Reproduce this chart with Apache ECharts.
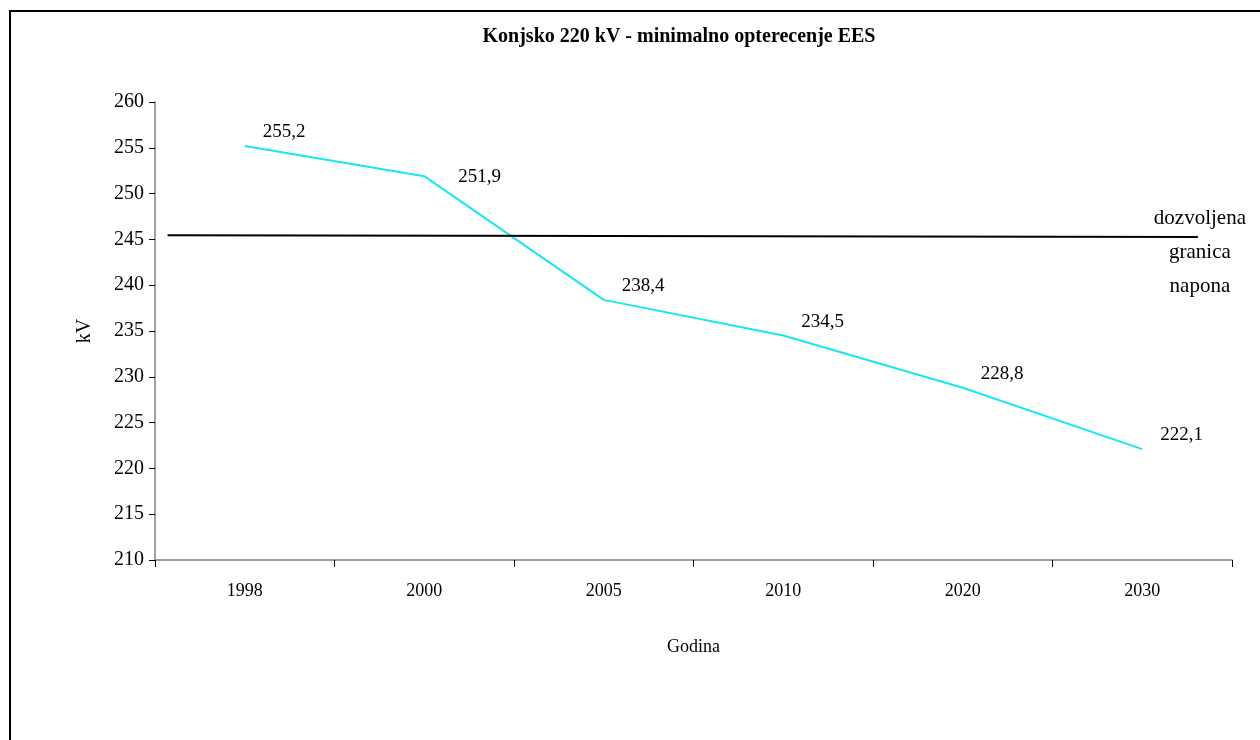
<!DOCTYPE html>
<html>
<head>
<meta charset="utf-8">
<script src="https://cdn.jsdelivr.net/npm/echarts@6/dist/echarts.min.js"></script>
<style>
html,body{margin:0;padding:0;background:#fff;}
#c{width:1260px;height:740px;}
</style>
</head>
<body>
<div id="c"></div>
<script>
const categories = ['1998', '2000', '2005', '2010', '2020', '2030'];
const voltage = [255.2, 251.9, 238.4, 234.5, 228.8, 222.1];
const limitX = [0.07, 5.81];
const limitY = [245.45, 245.25];
const limitLabel = 'dozvoljena\ngranica\nnapona';
const yTicks = { min: 210, max: 260, interval: 5 };

const font = '"Liberation Serif", "Times New Roman", serif';
const chart = echarts.init(document.getElementById('c'), null, { renderer: 'canvas' });

const option = {
  backgroundColor: '#fff',
  animation: false,
  title: {
    text: 'Konjsko 220 kV - minimalno opterecenje EES',
    left: 674, top: 22, textAlign: 'center',
    textStyle: { fontFamily: font, fontSize: 20, fontWeight: 'bold', color: '#000' }
  },
  graphic: [{
    type: 'rect', silent: true, z: -1,
    shape: { x: 10, y: 11, width: 1400, height: 900 },
    style: { fill: 'none', stroke: '#000', lineWidth: 2 }
  }],
  grid: { left: 155, right: 28, top: 102, bottom: 180 },
  xAxis: [{
    type: 'category', data: categories, boundaryGap: true,
    name: 'Godina', nameLocation: 'middle', nameGap: 78,
    nameTextStyle: { fontFamily: font, fontSize: 18, color: '#000' },
    axisLine: { lineStyle: { color: '#808080', width: 1.5 } },
    axisTick: { show: true, length: 7, alignWithLabel: false, lineStyle: { color: '#000' } },
    axisLabel: { fontFamily: font, fontSize: 18, color: '#000', margin: 22 },
    splitLine: { show: false }
  }, {
    type: 'value', min: 0, max: 6, show: false
  }],
  yAxis: {
    type: 'value', min: yTicks.min, max: yTicks.max, interval: yTicks.interval,
    name: 'kV', nameLocation: 'middle', nameGap: 60, nameRotate: 90,
    nameTextStyle: { fontFamily: font, fontSize: 20, color: '#000' },
    axisLine: { show: true, lineStyle: { color: '#808080', width: 1.5 } },
    axisTick: { show: true, length: 6, lineStyle: { color: '#000' } },
    axisLabel: { fontFamily: font, fontSize: 20, color: '#000', margin: 11 },
    splitLine: { show: false }
  },
  series: [{
    type: 'line', xAxisIndex: 0,
    data: voltage.map((v, i) => i === 1
      ? { value: v, label: { distance: 34, offset: [0, 1] } }
      : v),
    symbol: 'circle', symbolSize: 0, showSymbol: true,
    lineStyle: { color: '#18E6F0', width: 2 },
    label: {
      show: true, position: 'right', distance: 18, offset: [0, -14],
      formatter: p => String(p.value).replace('.', ','),
      fontFamily: font, fontSize: 19, color: '#000'
    }
  }, {
    type: 'line', xAxisIndex: 1,
    data: limitX.map((x, i) => [x, limitY[i]]),
    symbol: 'circle', symbolSize: 0, showSymbol: true,
    lineStyle: { color: '#000', width: 2 },
    label: {
      show: true,
      formatter: p => p.dataIndex === 1 ? limitLabel : '',
      position: 'inside', offset: [2, 15], align: 'center',
      lineHeight: 34, fontFamily: font, fontSize: 21, color: '#000'
    }
  }]
};
chart.setOption(option);
</script>
</body>
</html>
